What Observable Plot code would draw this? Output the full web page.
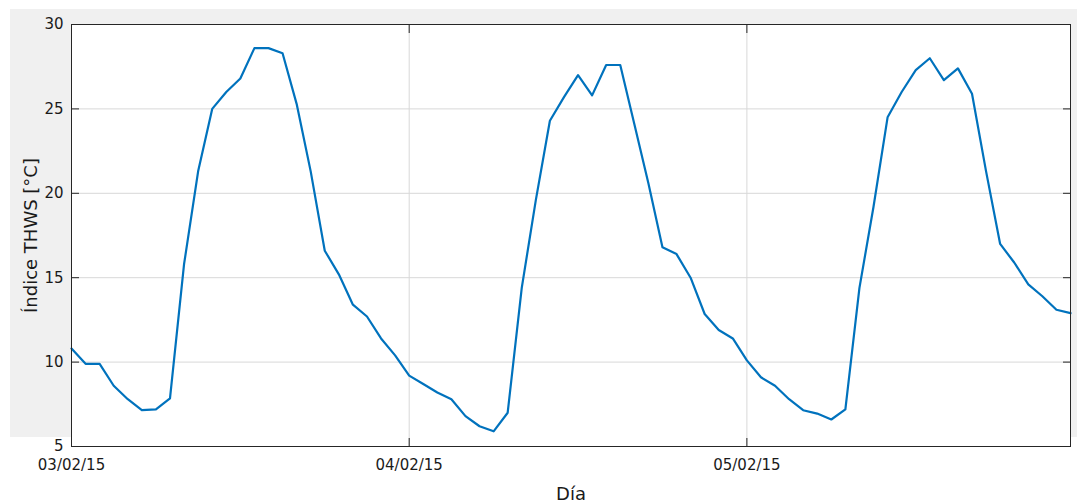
<!DOCTYPE html>
<html>
<head>
<meta charset="utf-8">
<script src="https://cdn.jsdelivr.net/npm/d3@7"></script>
<script src="https://cdn.jsdelivr.net/npm/@observablehq/plot@0.6"></script>
<style>
  html, body { margin: 0; padding: 0; background: #ffffff; }
  #wrap { position: relative; width: 1077px; height: 504px; overflow: hidden; }
  #bg { position: absolute; left: 10px; top: 9px; width: 1067px; height: 428px; background: #f0f0f0; }
  #chart { position: absolute; left: 0; top: 0; }
  g[aria-label="x-axis label"] text, g[aria-label="y-axis label"] text { font-size: 18px; }
</style>
</head>
<body>
<div id="wrap"><div id="bg"></div><div id="chart"></div></div>
<script>
// Hourly THWS index, starting 03/02/2015 00:00
const startTime = "2015-02-03T00:00Z";
const thwsValues = [
  10.8, 9.9, 9.9, 8.6, 7.8, 7.15, 7.2, 7.85, 15.8, 21.3, 25.0, 26.0, 26.8, 28.6, 28.6, 28.3,
  25.3, 21.3, 16.6, 15.2, 13.4, 12.7, 11.4, 10.4,
  9.2, 8.7, 8.2, 7.8, 6.8, 6.2, 5.9, 7.0, 14.4, 19.6, 24.3, 25.7, 27.0, 25.8, 27.6, 27.6,
  24.1, 20.6, 16.8, 16.4, 15.0, 12.85, 11.9, 11.4,
  10.1, 9.1, 8.6, 7.8, 7.15, 6.95, 6.6, 7.2, 14.4, 19.2, 24.5, 26.0, 27.3, 28.0, 26.7, 27.4,
  25.9, 21.3, 17.0, 15.9, 14.6, 13.9, 13.1, 12.9
];
const dayTicks = ["2015-02-03T00:00Z", "2015-02-04T00:00Z", "2015-02-05T00:00Z"];
const dayLabels = ["03/02/15", "04/02/15", "05/02/15"];
const yTicks = [5, 10, 15, 20, 25, 30];

const t0 = new Date(startTime);
const data = thwsValues.map((v, i) => ({t: d3.utcHour.offset(t0, i), v}));
const xTicks = dayTicks.map(d => new Date(d));
const fmtX = d => dayLabels[xTicks.findIndex(t => +t === +d)] ?? "";

const axisColor = "#262626";
const plot = Plot.plot({
  width: 1077,
  height: 504,
  marginLeft: 71,
  marginRight: 7,
  marginTop: 24,
  marginBottom: 58,
  style: {background: "transparent", fontFamily: "'DejaVu Sans', sans-serif", fontSize: "15px", color: axisColor},
  x: {type: "utc", domain: [data[0].t, data[data.length - 1].t]},
  y: {domain: [5, 30]},
  marks: [
    Plot.frame({fill: "white", stroke: null}),
    Plot.gridY(yTicks, {stroke: "#d8d8d8", strokeOpacity: 1}),
    Plot.gridX(xTicks, {stroke: "#d8d8d8", strokeOpacity: 1}),
    Plot.lineY(data, {x: "t", y: "v", stroke: "#0072bd", strokeWidth: 2.2, curve: "linear"}),
    Plot.frame({stroke: axisColor, strokeWidth: 1}),
    Plot.axisY({anchor: "left", ticks: yTicks, tickSize: -8, tickPadding: 16, label: "Índice THWS [°C]", labelArrow: "none", labelAnchor: "center", labelOffset: 47, fill: "#1a1a1a", stroke: axisColor}),
    Plot.axisY({anchor: "right", ticks: yTicks, tickSize: -8, label: null, tickFormat: () => "", stroke: axisColor}),
    Plot.axisX({anchor: "bottom", ticks: xTicks, tickSize: -8, tickPadding: 21, tickFormat: fmtX, label: "Día", labelArrow: "none", labelAnchor: "center", labelOffset: 53, fill: "#1a1a1a", stroke: axisColor}),
    Plot.axisX({anchor: "top", ticks: xTicks, tickSize: -8, label: null, tickFormat: () => "", stroke: axisColor})
  ]
});
document.getElementById("chart").appendChild(plot);
</script>
</body>
</html>
